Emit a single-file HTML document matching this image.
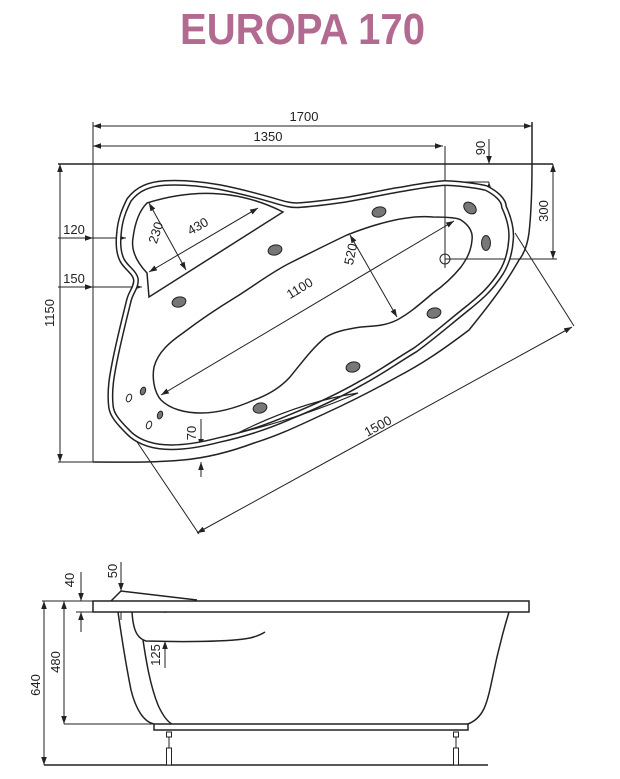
<!DOCTYPE html>
<html><head><meta charset="utf-8"><style>
html,body{margin:0;padding:0;background:#fff;}
svg{display:block;}
text{font-family:"Liberation Sans",sans-serif;font-size:13px;fill:#222;}
</style></head><body>
<svg width="620" height="779" viewBox="0 0 620 779" xmlns="http://www.w3.org/2000/svg">
<defs>
<marker id="a" viewBox="0 0 10 10" refX="10" refY="5" markerWidth="8" markerHeight="8" orient="auto-start-reverse" markerUnits="userSpaceOnUse"><path d="M0,1.5 L10,5 L0,8.5 Z" fill="#222"/></marker>
</defs>
<text x="180" y="44" textLength="245" lengthAdjust="spacingAndGlyphs" style="font-size:44px;fill:#b36a90;font-weight:bold;">EUROPA 170</text>

<g fill="none" stroke="#222" stroke-width="1">
<line x1="58" y1="164" x2="553" y2="164" stroke-width="1.5"/>
<line x1="93" y1="122" x2="93" y2="462"/>
<line x1="58" y1="462" x2="93" y2="462"/>
<path d="M532,122 L532,164 C532,190 531,215 529,233 C527,248 523,255 519,260 C512,272 504,287 469,330 C440,352 420,365 397,377 C370,392 350,402 326,413 C300,425 280,435 254,443 C230,452 205,458 183,460 C150,463 120,462 93,462" stroke-width="1.5"/>
<line x1="93" y1="126" x2="532" y2="126" marker-start="url(#a)" marker-end="url(#a)"/>
<line x1="93" y1="146" x2="443" y2="146" marker-start="url(#a)" marker-end="url(#a)"/>
<line x1="445" y1="146" x2="445" y2="268"/>
<line x1="445" y1="259" x2="557" y2="259"/>
<line x1="553" y1="164" x2="553" y2="259" marker-start="url(#a)" marker-end="url(#a)"/>
<line x1="489" y1="139" x2="489" y2="164" marker-end="url(#a)"/>
<line x1="489" y1="190" x2="489" y2="182" marker-end="url(#a)"/>
<line x1="433" y1="182" x2="489" y2="182"/>
<line x1="60" y1="164" x2="60" y2="462" marker-start="url(#a)" marker-end="url(#a)"/>
<line x1="58" y1="238" x2="93" y2="238" marker-end="url(#a)"/>
<line x1="93" y1="238" x2="126" y2="238" marker-end="url(#a)"/>
<line x1="58" y1="287" x2="93" y2="287" marker-end="url(#a)"/>
<line x1="93" y1="287" x2="142" y2="287" marker-end="url(#a)"/>
<line x1="149" y1="203" x2="186" y2="270" marker-start="url(#a)" marker-end="url(#a)"/>
<line x1="149" y1="272" x2="258" y2="208" marker-start="url(#a)" marker-end="url(#a)"/>
<line x1="350" y1="235" x2="397" y2="317" marker-start="url(#a)" marker-end="url(#a)"/>
<line x1="454" y1="221" x2="161" y2="395" marker-start="url(#a)" marker-end="url(#a)"/>
<line x1="197" y1="533" x2="572" y2="327" marker-start="url(#a)" marker-end="url(#a)"/>
<line x1="515" y1="233" x2="574" y2="326"/>
<line x1="129" y1="430" x2="199" y2="534"/>
<line x1="201" y1="419" x2="201" y2="447" marker-end="url(#a)"/>
<line x1="201" y1="477" x2="201" y2="462" marker-end="url(#a)"/>
<circle cx="445" cy="259" r="5"/>
</g>

<path d="M445,183 C470,184 486,188 486,188 C496,193 504,200 504,207 C510,220 512,230 511,240 C510,255 506,265 501,273 C490,290 480,298 469,307 C450,322 432,338 415,350 C395,362 380,373 361,383 C335,398 312,408 290,417 C265,428 242,435 219,440 C200,445 180,448 165,447 C148,446 136,440 129,433 C118,422 112,415 111,407 C109,390 112,375 115,360 C119,340 124,320 129,300 C131,292 136,288 136,280 C135,272 126,268 122,260 C118,252 118,242 119,233 C120,220 124,210 129,200 C138,188 150,184 165,183 C185,182 202,184 219,187 C240,191 258,196 272,200 C285,204 292,206 301,205 C315,204 330,202 344,200 C362,197 380,193 397,190 C415,187 430,184 445,183 Z" fill="none" stroke="#222" stroke-width="6"/>
<path d="M445,183 C470,184 486,188 486,188 C496,193 504,200 504,207 C510,220 512,230 511,240 C510,255 506,265 501,273 C490,290 480,298 469,307 C450,322 432,338 415,350 C395,362 380,373 361,383 C335,398 312,408 290,417 C265,428 242,435 219,440 C200,445 180,448 165,447 C148,446 136,440 129,433 C118,422 112,415 111,407 C109,390 112,375 115,360 C119,340 124,320 129,300 C131,292 136,288 136,280 C135,272 126,268 122,260 C118,252 118,242 119,233 C120,220 124,210 129,200 C138,188 150,184 165,183 C185,182 202,184 219,187 C240,191 258,196 272,200 C285,204 292,206 301,205 C315,204 330,202 344,200 C362,197 380,193 397,190 C415,187 430,184 445,183 Z" fill="none" stroke="#fff" stroke-width="3"/>

<g fill="none" stroke="#222" stroke-width="1.5">
<path d="M147,203 Q220,180 283,212 L149,297 L147,273 Q130,255 133,238 Q136,214 147,203 Z"/>
<path d="M347,235 C380,222 410,215 433,217 C450,217 458,218 461,220 C470,226 473,233 472,240 C471,252 466,260 461,267 C452,278 443,286 433,293 C420,304 410,313 397,320 C385,326 374,326 361,327 C348,329 336,331 326,337 C312,348 300,365 290,377 C280,388 268,395 254,400 C236,408 218,413 201,413 C185,413 170,409 161,400 C154,392 152,378 154,367 C158,352 170,342 183,333 C200,320 218,308 236,297 C255,285 272,272 290,263 C310,253 330,243 347,235 Z"/>
<path d="M238,433 Q300,402 358,393 Q300,418 238,433 Z" stroke-width="1.2"/>
</g>

<g fill="#777" stroke="#222" stroke-width="1">
<ellipse cx="379" cy="212" rx="7" ry="5" transform="rotate(-15 379 212)"/>
<ellipse cx="470" cy="208" rx="7" ry="5" transform="rotate(40 470 208)"/>
<ellipse cx="486" cy="243" rx="4.5" ry="7.5"/>
<ellipse cx="275" cy="250" rx="7" ry="5" transform="rotate(-15 275 250)"/>
<ellipse cx="179" cy="302" rx="7" ry="5" transform="rotate(-15 179 302)"/>
<ellipse cx="434" cy="313" rx="7" ry="5" transform="rotate(-15 434 313)"/>
<ellipse cx="353" cy="367" rx="7" ry="5" transform="rotate(-15 353 367)"/>
<ellipse cx="260" cy="408" rx="7" ry="5" transform="rotate(-15 260 408)"/>
<ellipse cx="143" cy="391" rx="2.5" ry="4" transform="rotate(20 143 391)"/>
<ellipse cx="160" cy="415" rx="2.5" ry="4" transform="rotate(20 160 415)"/>
<ellipse cx="129" cy="398" rx="2.5" ry="4" fill="#fff" transform="rotate(20 129 398)"/>
<ellipse cx="149" cy="425" rx="2.5" ry="4" fill="#fff" transform="rotate(20 149 425)"/>
</g>

<text x="304" y="121" text-anchor="middle">1700</text>
<text x="268" y="141" text-anchor="middle">1350</text>
<text x="74" y="234" text-anchor="middle">120</text>
<text x="74" y="283" text-anchor="middle">150</text>
<text transform="translate(54,313) rotate(-90)" text-anchor="middle">1150</text>
<text transform="translate(485,148) rotate(-90)" text-anchor="middle">90</text>
<text transform="translate(548,211) rotate(-90)" text-anchor="middle">300</text>
<text transform="translate(160,234) rotate(-72)" text-anchor="middle">230</text>
<text transform="translate(200,230) rotate(-30)" text-anchor="middle">430</text>
<text transform="translate(355,255) rotate(-78)" text-anchor="middle">520</text>
<text transform="translate(302,292) rotate(-31)" text-anchor="middle">1100</text>
<text transform="translate(380,430) rotate(-29)" text-anchor="middle">1500</text>
<text transform="translate(196,433) rotate(-90)" text-anchor="middle">70</text>

<g fill="none" stroke="#222" stroke-width="1">
<line x1="42" y1="601" x2="93" y2="601"/>
<line x1="76" y1="612" x2="93" y2="612"/>
<line x1="64" y1="724" x2="154" y2="724"/>
<line x1="44" y1="765" x2="488" y2="765" stroke-width="1.5"/>
<line x1="44" y1="601" x2="44" y2="765" marker-start="url(#a)" marker-end="url(#a)"/>
<line x1="64" y1="601" x2="64" y2="724" marker-start="url(#a)" marker-end="url(#a)"/>
<line x1="81" y1="572" x2="81" y2="601" marker-end="url(#a)"/>
<line x1="81" y1="632" x2="81" y2="612" marker-end="url(#a)"/>
<line x1="121" y1="562" x2="121" y2="591" marker-end="url(#a)"/>
<line x1="121" y1="620" x2="121" y2="603" marker-end="url(#a)"/>
<line x1="165" y1="613" x2="165" y2="601" marker-end="url(#a)"/>
<line x1="165" y1="668" x2="165" y2="641" marker-end="url(#a)"/>
</g>
<g fill="none" stroke="#222" stroke-width="1.5">
<rect x="93" y="601" width="436" height="11" fill="#fff"/>
<path d="M111,601 L121,591 L197,600"/>
<path d="M118,612 C122,640 126,665 131,690 C136,710 144,722 154,724"/>
<path d="M132,612 C133,628 136,638 146,641 C180,642 230,642 250,638 C258,636 262,634 265,632"/>
<path d="M143,640 C146,660 150,685 158,705 C163,716 168,722 172,724"/>
<path d="M509,612 C502,635 497,655 492,680 C487,705 483,718 468,724"/>
<rect x="154" y="724" width="314" height="6" fill="#fff"/>
</g>
<g fill="#fff" stroke="#222" stroke-width="1">
<rect x="166.5" y="732" width="5" height="5"/>
<rect x="166.5" y="748" width="5" height="17"/>
<rect x="453.5" y="732" width="5" height="5"/>
<rect x="453.5" y="748" width="5" height="17"/>
</g>
<line x1="169" y1="737" x2="169" y2="748" stroke="#222" stroke-width="1"/>
<line x1="456" y1="737" x2="456" y2="748" stroke="#222" stroke-width="1"/>
<text transform="translate(74,580) rotate(-90)" text-anchor="middle">40</text>
<text transform="translate(117,571) rotate(-90)" text-anchor="middle">50</text>
<text transform="translate(40,685) rotate(-90)" text-anchor="middle">640</text>
<text transform="translate(60,662) rotate(-90)" text-anchor="middle">480</text>
<text transform="translate(160,655) rotate(-90)" text-anchor="middle">125</text>
</svg>
</body></html>
